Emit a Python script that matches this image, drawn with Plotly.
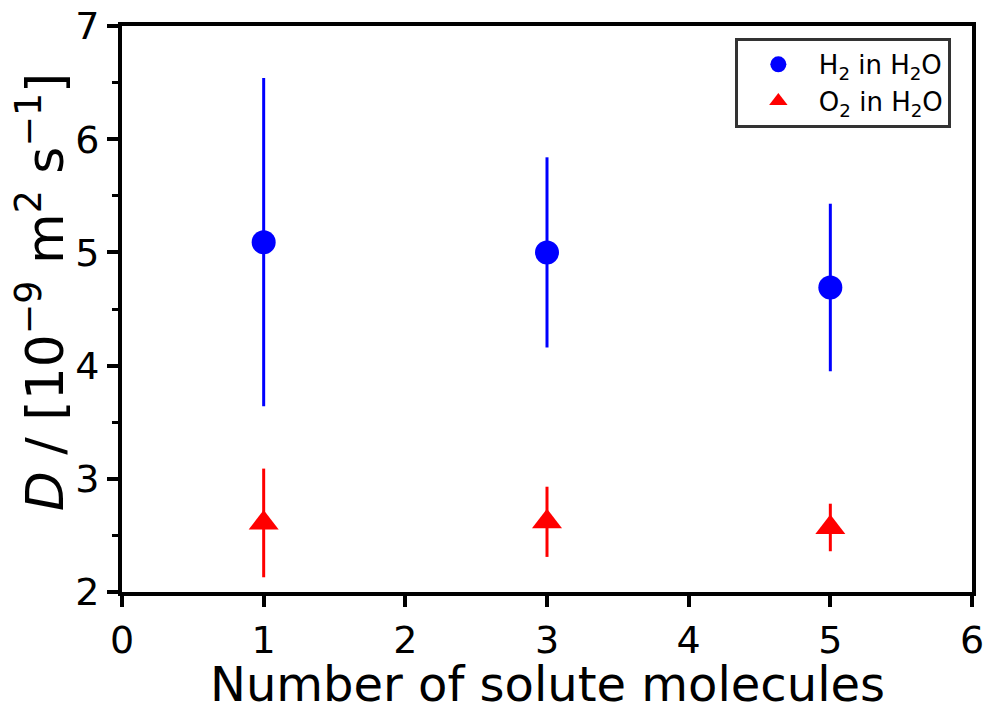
import plotly.graph_objects as go

# data
solute_counts = [1, 3, 5]
h2_D = [5.09, 5.00, 4.69]
h2_err = [1.45, 0.84, 0.74]
o2_D = [2.61, 2.62, 2.57]
o2_err = [0.48, 0.31, 0.21]
x_ticks = [0, 1, 2, 3, 4, 5, 6]
y_ticks = [2, 3, 4, 5, 6, 7]

FONT = "DejaVu Sans"

fig = go.Figure()
fig.add_trace(go.Scatter(
    x=solute_counts, y=h2_D, mode="markers", name="H<sub>2</sub> in H<sub>2</sub>O",
    marker=dict(symbol="circle", size=24, color="blue"),
    error_y=dict(type="data", array=h2_err, visible=True, color="blue", thickness=3, width=0),
))
fig.add_trace(go.Scatter(
    x=solute_counts, y=o2_D, mode="markers", name="O<sub>2</sub> in H<sub>2</sub>O",
    marker=dict(symbol="triangle-up", size=26, color="red"),
    error_y=dict(type="data", array=o2_err, visible=True, color="red", thickness=3, width=0),
))

axis_common = dict(
    showline=True, linewidth=4, linecolor="black", mirror=True,
    showgrid=False, zeroline=False, automargin=False,
    ticks="outside", ticklen=11, tickwidth=3.5, tickcolor="black",
    tickfont=dict(family=FONT, size=38, color="black"),
)

fig.update_xaxes(range=[0, 6], tickmode="array", tickvals=x_ticks, **axis_common)
fig.update_yaxes(
    range=[2, 7], tickmode="array", tickvals=y_ticks,
    minor=dict(ticks="outside", ticklen=6, tickwidth=3, tickcolor="black", dtick=0.5, tick0=2),
    **axis_common,
)

fig.add_annotation(
    text="Number of solute molecules", xref="paper", yref="paper",
    x=0.5, y=-0.163, xanchor="center", yanchor="middle", showarrow=False,
    font=dict(family=FONT, size=48, color="black"),
)
fig.add_annotation(
    text="<i>D</i> / [10<sup>−9</sup> m<sup>2</sup> s<sup>−1</sup>]", xref="paper", yref="paper",
    x=-0.095, y=0.53, xanchor="center", yanchor="middle", showarrow=False, textangle=-90,
    font=dict(family=FONT, size=52, color="black"),
)

fig.update_layout(
    width=985, height=704,
    margin=dict(l=122, r=13, t=26, b=112),
    plot_bgcolor="white", paper_bgcolor="white",
    font=dict(family=FONT, color="black"),
    legend=dict(
        x=0.721, y=0.979, xanchor="left", yanchor="top",
        bgcolor="white", bordercolor="#333333", borderwidth=3,
        font=dict(family=FONT, size=26, color="black"),
        itemsizing="trace", itemwidth=71,
    ),
)

fig.write_html("out.html")
